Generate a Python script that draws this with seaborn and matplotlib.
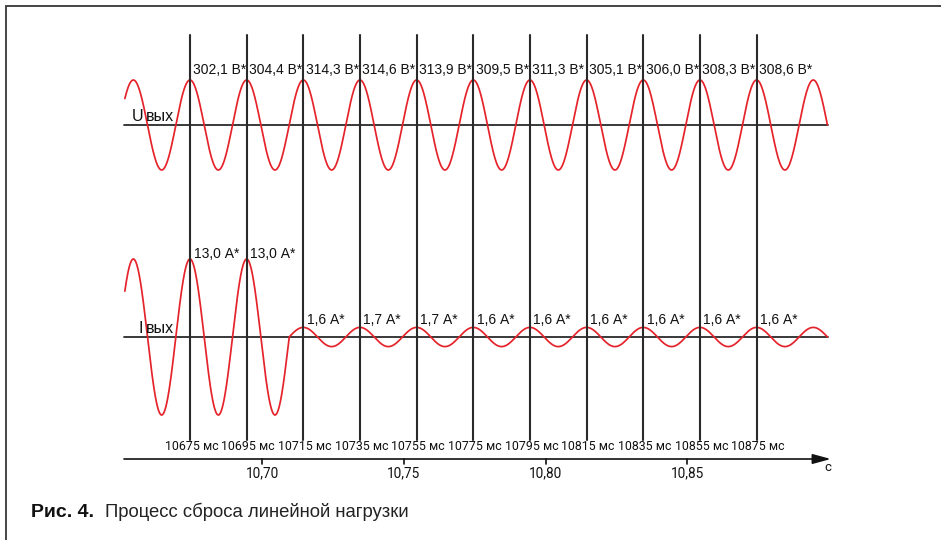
import numpy as np
import pandas as pd
import matplotlib
matplotlib.use("Agg")
import matplotlib.pyplot as plt
import seaborn as sns

# ---------------- data ----------------
marker_times_ms = [10675, 10695, 10715, 10735, 10755, 10775, 10795, 10815, 10835, 10855, 10875]
u_peak_values = [302.1, 304.4, 314.3, 314.6, 313.9, 309.5, 311.3, 305.1, 306.0, 308.3, 308.6]
i_label_times_ms = [10675, 10695, 10715, 10735, 10755, 10775, 10795, 10815, 10835, 10855, 10875]
i_peak_values = [13.0, 13.0, 1.6, 1.7, 1.7, 1.6, 1.6, 1.6, 1.6, 1.6, 1.6]
axis_ticks_s = [10.70, 10.75, 10.80, 10.85]
axis_tick_labels = ["10,70", "10,75", "10,80", "10,85"]

freq_hz = 50.0                 # mains frequency (peaks every 20 ms)
first_peak_s = 10.675
i_before = 13.0                # current amplitude before load reset
i_after = 1.6                  # current amplitude after load reset
reset_time_s = 10.710          # moment current drops
wave_start_s, wave_end_s = 10.652, 10.900

# ---------------- layout (pixel-based y, seconds on x) ----------------
W, H = 941, 540
px_per_s = 2833.0
x0 = 10.675 - 190 / px_per_s
x1 = 10.675 + (W - 190) / px_per_s
px = 1 / px_per_s

U_BASE, U_AMP = 125, 45
I_BASE, I_SCALE = 337, 6.0

sns.set_theme(style="white")
plt.rcParams["font.family"] = ["Liberation Sans", "DejaVu Sans"]

fig = plt.figure(figsize=(W / 100, H / 100), dpi=100)
ax = fig.add_axes([0, 0, 1, 1])
ax.set_xlim(x0, x1)
ax.set_ylim(H, 0)
ax.axis("off")

red = "#e5232b"
dark = "#2a2a2a"
din = ["Roboto", "DejaVu Sans"]

# waveforms
t = np.linspace(wave_start_s, wave_end_s, 3000)
phase = np.cos(2 * np.pi * freq_hz * (t - first_peak_s))
u_y = U_BASE - U_AMP * phase
i_amp = np.where(t < reset_time_s, i_before, i_after)
i_y = I_BASE - I_SCALE * i_amp * phase
df = pd.DataFrame({"t": np.concatenate([t, t]),
                   "y": np.concatenate([u_y, i_y]),
                   "sig": ["U"] * len(t) + ["I"] * len(t)})
sns.lineplot(data=df, x="t", y="y", units="sig", estimator=None,
             color=red, lw=1.25, ax=ax, sort=False, legend=False)

# baselines
for yb in (U_BASE, I_BASE):
    ax.plot([wave_start_s - 0.0003, 10.9001], [yb, yb], color=dark, lw=1.3, zorder=1)

# vertical markers
for tm in marker_times_ms:
    ts = tm / 1000
    ax.plot([ts, ts], [35, 440], color=dark, lw=1.5, zorder=3)
    ax.text(ts + 1.5 * px, 450, f"{tm} мс", ha="center", va="baseline", fontsize=8.9,
            family=din, color="#111")

# voltage labels
for tm, v in zip(marker_times_ms, u_peak_values):
    ax.text(tm / 1000 + 2.5 * px, 74, f"{v:.1f}".replace(".", ",") + " В*",
            ha="left", va="baseline", fontsize=10, color="#111")

# current labels
for tm, v in zip(i_label_times_ms, i_peak_values):
    yb = 257.5 if v > 5 else 324.5
    ax.text(tm / 1000 + 3.5 * px, yb, f"{v:.1f}".replace(".", ",") + " А*",
            ha="left", va="baseline", fontsize=10, color="#111")

# signal names
ax.text(10.675 - 16 * px, 121, "вых", ha="right", va="baseline", fontsize=11.5, color="#111")
ax.text(10.675 - 47 * px, 121, "U", ha="right", va="baseline", fontsize=11.5, color="#111")
ax.text(10.675 - 16 * px, 333, "вых", ha="right", va="baseline", fontsize=11.5, color="#111")
ax.text(10.675 - 47 * px, 333, "I", ha="right", va="baseline", fontsize=11.5, color="#111")

# time axis with arrow
ax.annotate("", xy=(10.9012, 459), xytext=(wave_start_s - 0.0003, 459),
            arrowprops=dict(arrowstyle="-|>,head_length=1.1,head_width=0.3",
                            color="#111", lw=1.2, shrinkA=0, shrinkB=0,
                            mutation_scale=10))
for ts, lab in zip(axis_ticks_s, axis_tick_labels):
    ax.plot([ts + 1.5 * px, ts + 1.5 * px], [459, 464], color="#111", lw=1.2)
    ax.text(ts + 1.5 * px, 477, lab, ha="center", va="baseline", fontsize=9.8,
            family=din, color="#111")
ax.text(10.675 + 638 * px, 471, "с", ha="center", va="baseline", fontsize=9.5,
        family=din, color="#111")

# frame (top and left only visible)
fig.add_artist(plt.Line2D([5.5 / W, 1], [1 - 5.5 / H, 1 - 5.5 / H], color="#444", lw=1.4))
fig.add_artist(plt.Line2D([5.5 / W, 5.5 / W], [0, 1 - 5.5 / H], color="#444", lw=1.4))

# caption
fig.text(31 / W, 1 - 517 / H, "Рис. 4.", fontsize=14, fontweight="bold",
         ha="left", va="baseline", color="#111")
fig.text(105 / W, 1 - 517 / H, "Процесс сброса линейной нагрузки", fontsize=13.3,
         ha="left", va="baseline", color="#222")

fig.savefig("out.png", dpi=100)
